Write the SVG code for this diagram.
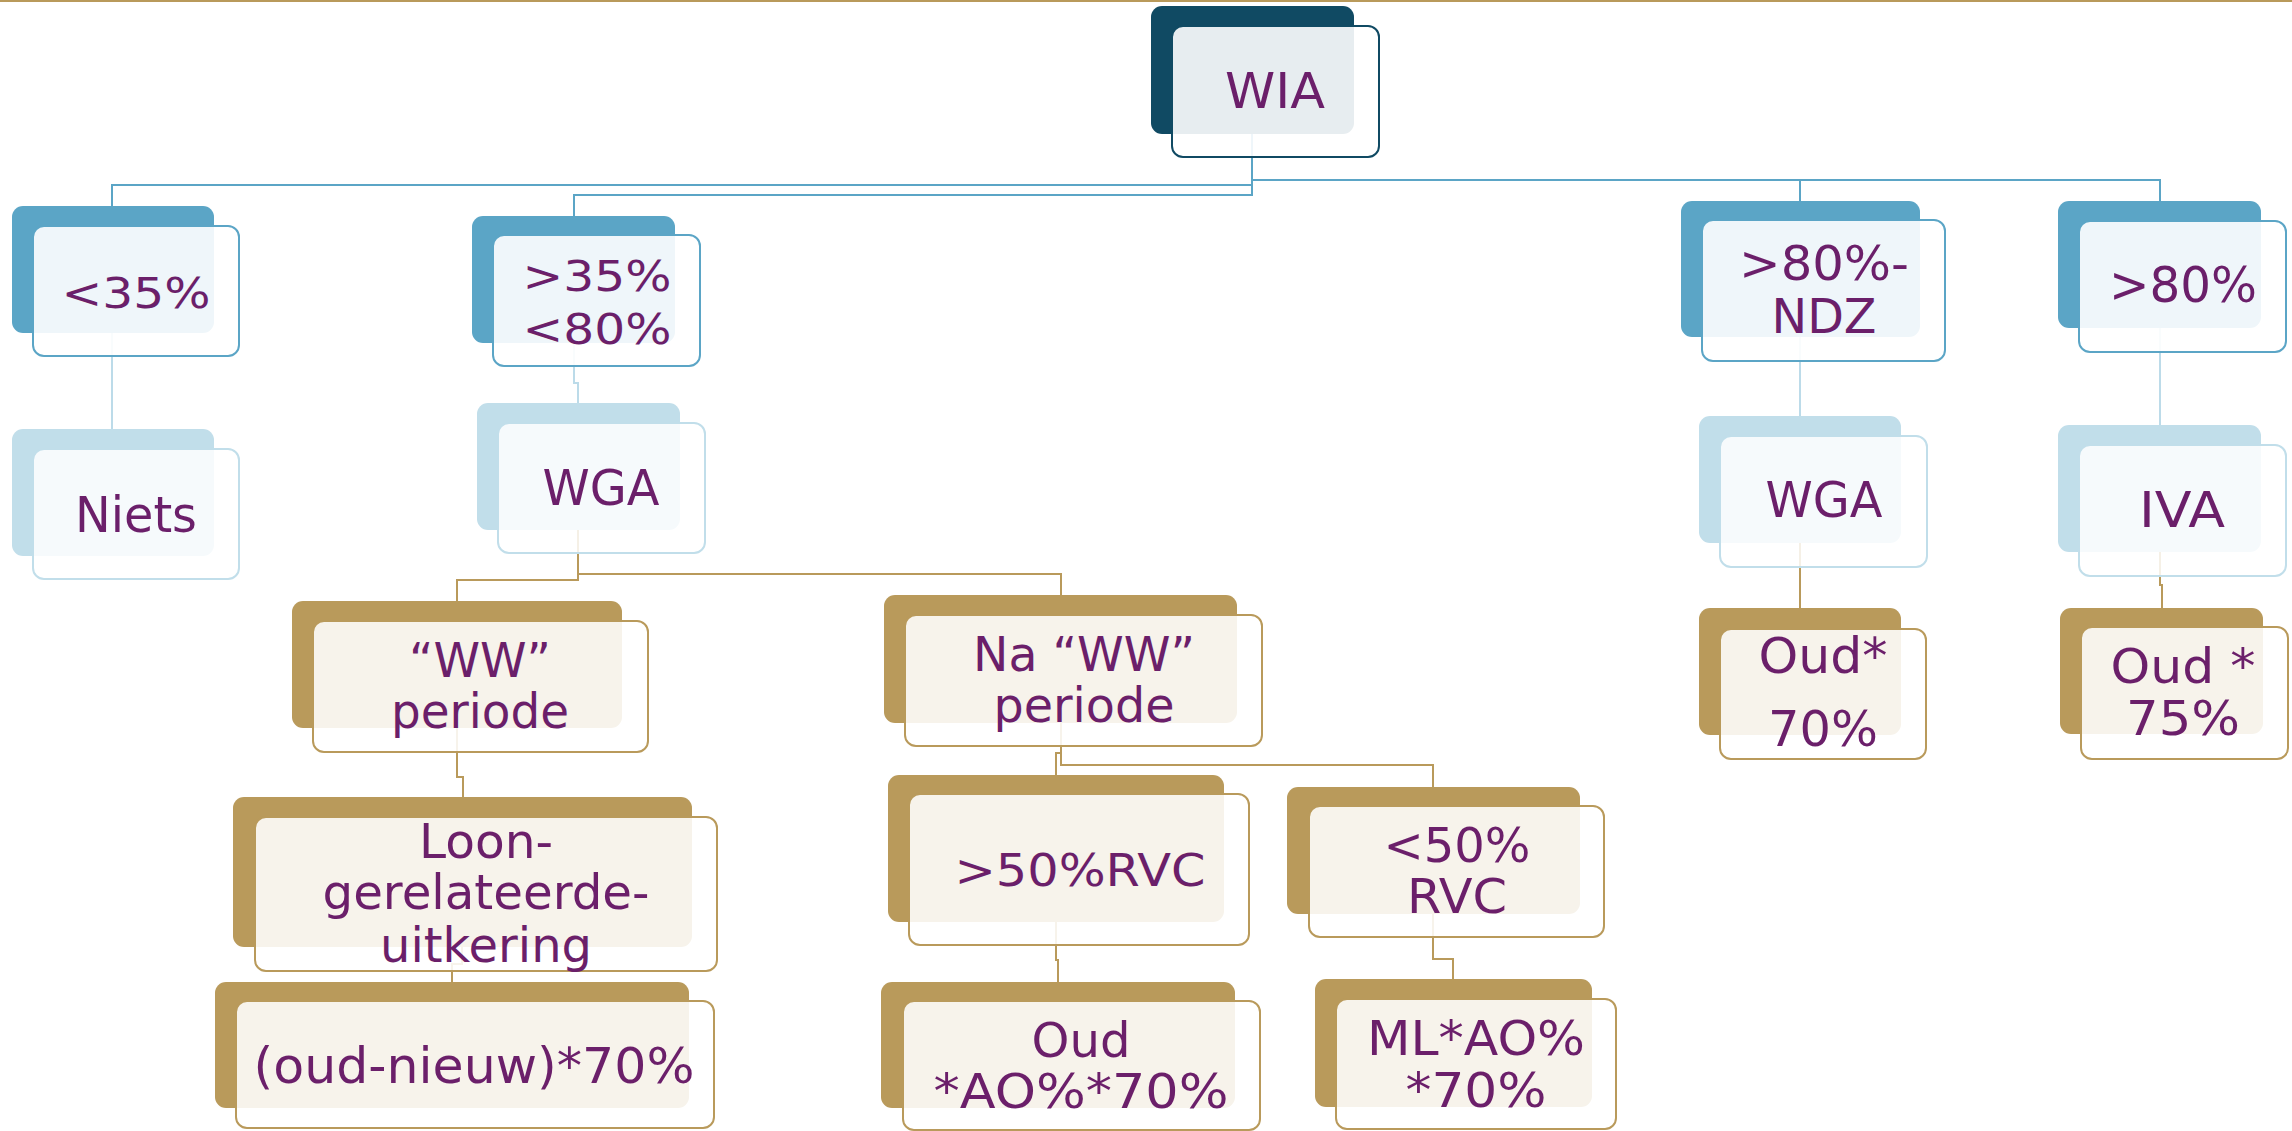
<svg xmlns="http://www.w3.org/2000/svg" width="2292" height="1131" viewBox="0 0 2292 1131">
<style>
.bd{fill:#104A63}
.bm{fill:#5BA5C6}
.bl{fill:#C1DEEA}
.bg{fill:#B99A5B}
.fd{fill:#fff;fill-opacity:.9;stroke:#104A63;stroke-width:2}
.fm{fill:#fff;fill-opacity:.9;stroke:#5BA5C6;stroke-width:2}
.fl{fill:#fff;fill-opacity:.85;stroke:#C1DEEA;stroke-width:2}
.fg{fill:#fff;fill-opacity:.88;stroke:#B99A5B;stroke-width:2}
.t{font-family:"DejaVu Sans","Verdana",sans-serif;fill:#6B1F6A;text-anchor:middle}
.c{fill:none;stroke-width:2}
.cm{stroke:#5BA5C6}
.cl{stroke:#BCDBE9}
.cg{stroke:#B99A5B}
</style>
<rect x="0" y="0" width="2292" height="2" fill="#B99A5B"/>
<g id="connectors" class="c">
<path class="cm" d="M1252,134V185H112V206"/>
<path class="cm" d="M1252,134V195H574V216"/>
<path class="cm" d="M1252,134V180H1800V201"/>
<path class="cm" d="M1252,134V180H2160V201"/>
<path class="cl" d="M112,333V429"/>
<path class="cl" d="M574,343V383H578V403"/>
<path class="cl" d="M1800,337V416"/>
<path class="cl" d="M2160,328V425"/>
<path class="cg" d="M578,530V580H457V601"/>
<path class="cg" d="M578,530V574H1061V595"/>
<path class="cg" d="M457,728V777H463V797"/>
<path class="cg" d="M462,947V964H452V982"/>
<path class="cg" d="M1061,723V753H1056V775"/>
<path class="cg" d="M1061,723V765H1433V787"/>
<path class="cg" d="M1056,922V960H1058V982"/>
<path class="cg" d="M1433,914V959H1453V979"/>
<path class="cg" d="M1800,543V608"/>
<path class="cg" d="M2160,552V585H2162V608"/>
</g>
<g id="wia">
<rect class="bd" x="1151" y="6" width="203" height="128" rx="11"/>
<rect class="fd" x="1172" y="26" width="207" height="131" rx="11"/>
<text class="t" x="1275" y="108" font-size="50" textLength="100" lengthAdjust="spacingAndGlyphs">WIA</text>
</g>
<g id="lt35">
<rect class="bm" x="12" y="206" width="202" height="127" rx="11"/>
<rect class="fm" x="33" y="226" width="206" height="130" rx="11"/>
<text class="t" x="136" y="308" font-size="43" textLength="149" lengthAdjust="spacingAndGlyphs">&lt;35%</text>
</g>
<g id="niets">
<rect class="bl" x="12" y="429" width="202" height="127" rx="11"/>
<rect class="fl" x="33" y="449" width="206" height="130" rx="11"/>
<text class="t" x="136" y="532" font-size="50" textLength="122" lengthAdjust="spacingAndGlyphs">Niets</text>
</g>
<g id="gt35lt80">
<rect class="bm" x="472" y="216" width="203" height="127" rx="11"/>
<rect class="fm" x="493" y="235" width="207" height="131" rx="11"/>
<text class="t" x="597" y="291" font-size="43" textLength="149" lengthAdjust="spacingAndGlyphs">&gt;35%</text>
<text class="t" x="597" y="344" font-size="43" textLength="149" lengthAdjust="spacingAndGlyphs">&lt;80%</text>
</g>
<g id="wga-left">
<rect class="bl" x="477" y="403" width="203" height="127" rx="11"/>
<rect class="fl" x="498" y="423" width="207" height="130" rx="11"/>
<text class="t" x="601" y="505" font-size="50" textLength="117" lengthAdjust="spacingAndGlyphs">WGA</text>
</g>
<g id="ww-periode">
<rect class="bg" x="292" y="601" width="330" height="127" rx="11"/>
<rect class="fg" x="313" y="621" width="335" height="131" rx="11"/>
<text class="t" x="480" y="677" font-size="48" textLength="142" lengthAdjust="spacingAndGlyphs">“WW”</text>
<text class="t" x="480" y="728" font-size="48" textLength="178" lengthAdjust="spacingAndGlyphs">periode</text>
</g>
<g id="na-ww-periode">
<rect class="bg" x="884" y="595" width="353" height="128" rx="11"/>
<rect class="fg" x="905" y="615" width="357" height="131" rx="11"/>
<text class="t" x="1084" y="671" font-size="48" textLength="222" lengthAdjust="spacingAndGlyphs">Na “WW”</text>
<text class="t" x="1084" y="722" font-size="48" textLength="181" lengthAdjust="spacingAndGlyphs">periode</text>
</g>
<g id="loon">
<rect class="bg" x="233" y="797" width="459" height="150" rx="11"/>
<rect class="fg" x="255" y="817" width="462" height="154" rx="11"/>
<text class="t" x="486" y="858" font-size="48" textLength="134" lengthAdjust="spacingAndGlyphs">Loon-</text>
<text class="t" x="486" y="909" font-size="48" textLength="327" lengthAdjust="spacingAndGlyphs">gerelateerde-</text>
<text class="t" x="486" y="962" font-size="48" textLength="212" lengthAdjust="spacingAndGlyphs">uitkering</text>
</g>
<g id="oud-nieuw">
<rect class="bg" x="215" y="982" width="474" height="126" rx="11"/>
<rect class="fg" x="236" y="1001" width="478" height="127" rx="11"/>
<text class="t" x="474" y="1083" font-size="50" textLength="441" lengthAdjust="spacingAndGlyphs">(oud-nieuw)*70%</text>
</g>
<g id="gt50rvc">
<rect class="bg" x="888" y="775" width="336" height="147" rx="11"/>
<rect class="fg" x="909" y="794" width="340" height="151" rx="11"/>
<text class="t" x="1080" y="886" font-size="45" textLength="251" lengthAdjust="spacingAndGlyphs">&gt;50%RVC</text>
</g>
<g id="lt50rvc">
<rect class="bg" x="1287" y="787" width="293" height="127" rx="11"/>
<rect class="fg" x="1309" y="806" width="295" height="131" rx="11"/>
<text class="t" x="1457" y="862" font-size="48" textLength="147" lengthAdjust="spacingAndGlyphs">&lt;50%</text>
<text class="t" x="1457" y="913" font-size="48" textLength="100" lengthAdjust="spacingAndGlyphs">RVC</text>
</g>
<g id="oud-ao">
<rect class="bg" x="881" y="982" width="354" height="126" rx="11"/>
<rect class="fg" x="903" y="1001" width="357" height="129" rx="11"/>
<text class="t" x="1081" y="1057" font-size="48" textLength="99" lengthAdjust="spacingAndGlyphs">Oud</text>
<text class="t" x="1081" y="1108" font-size="48" textLength="295" lengthAdjust="spacingAndGlyphs">*AO%*70%</text>
</g>
<g id="ml-ao">
<rect class="bg" x="1315" y="979" width="277" height="128" rx="11"/>
<rect class="fg" x="1336" y="999" width="280" height="130" rx="11"/>
<text class="t" x="1476" y="1055" font-size="48" textLength="218" lengthAdjust="spacingAndGlyphs">ML*AO%</text>
<text class="t" x="1476" y="1107" font-size="48" textLength="141" lengthAdjust="spacingAndGlyphs">*70%</text>
</g>
<g id="gt80-ndz">
<rect class="bm" x="1681" y="201" width="239" height="136" rx="11"/>
<rect class="fm" x="1702" y="220" width="243" height="141" rx="11"/>
<text class="t" x="1824" y="280" font-size="48" textLength="170" lengthAdjust="spacingAndGlyphs">&gt;80%-</text>
<text class="t" x="1824" y="333" font-size="48" textLength="105" lengthAdjust="spacingAndGlyphs">NDZ</text>
</g>
<g id="gt80">
<rect class="bm" x="2058" y="201" width="203" height="127" rx="11"/>
<rect class="fm" x="2079" y="221" width="207" height="131" rx="11"/>
<text class="t" x="2183" y="302" font-size="49" textLength="148" lengthAdjust="spacingAndGlyphs">&gt;80%</text>
</g>
<g id="wga-right">
<rect class="bl" x="1699" y="416" width="202" height="127" rx="11"/>
<rect class="fl" x="1720" y="436" width="207" height="131" rx="11"/>
<text class="t" x="1824" y="517" font-size="50" textLength="117" lengthAdjust="spacingAndGlyphs">WGA</text>
</g>
<g id="iva">
<rect class="bl" x="2058" y="425" width="203" height="127" rx="11"/>
<rect class="fl" x="2079" y="445" width="207" height="131" rx="11"/>
<text class="t" x="2182" y="527" font-size="50" textLength="86" lengthAdjust="spacingAndGlyphs">IVA</text>
</g>
<g id="oud-70">
<rect class="bg" x="1699" y="608" width="202" height="127" rx="11"/>
<rect class="fg" x="1720" y="629" width="206" height="130" rx="11"/>
<text class="t" x="1823" y="673" font-size="50" textLength="129" lengthAdjust="spacingAndGlyphs">Oud*</text>
<text class="t" x="1823" y="746" font-size="50" textLength="110" lengthAdjust="spacingAndGlyphs">70%</text>
</g>
<g id="oud-75">
<rect class="bg" x="2060" y="608" width="203" height="126" rx="11"/>
<rect class="fg" x="2081" y="627" width="207" height="132" rx="11"/>
<text class="t" x="2183" y="683" font-size="48" textLength="145" lengthAdjust="spacingAndGlyphs">Oud *</text>
<text class="t" x="2183" y="735" font-size="48" textLength="114" lengthAdjust="spacingAndGlyphs">75%</text>
</g>
</svg>
